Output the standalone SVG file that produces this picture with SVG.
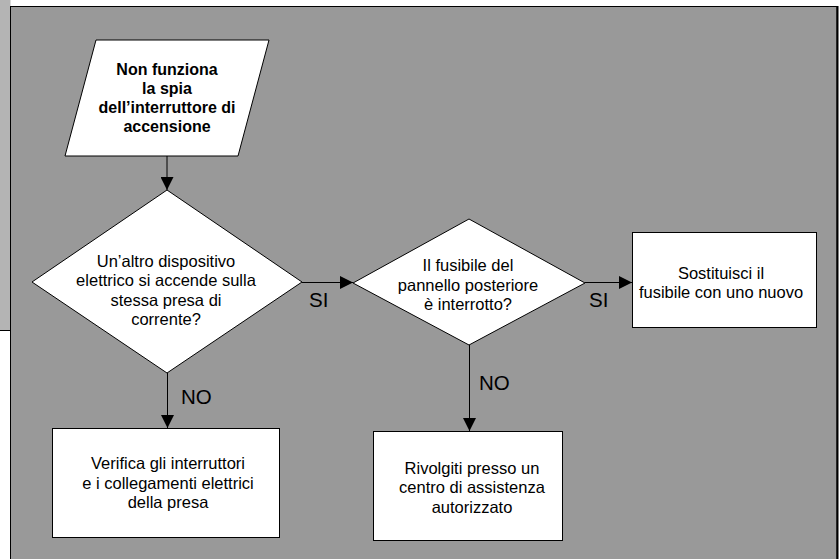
<svg xmlns="http://www.w3.org/2000/svg" width="839" height="559" viewBox="0 0 839 559">
<style>
.shape{fill:#ffffff;stroke:#000000;stroke-width:1}
.t{font-family:"Liberation Sans",Arial,sans-serif;font-size:16.5px;fill:#000000;text-anchor:middle}
.tb{font-family:"Liberation Sans",Arial,sans-serif;font-size:16px;font-weight:bold;fill:#000000;text-anchor:middle}
.lbl{font-family:"Liberation Sans",Arial,sans-serif;font-size:20.5px;fill:#000000}
.conn{stroke:#000000;stroke-width:1;fill:none}
</style>
<defs>
<marker id="arr" markerWidth="13" markerHeight="13" refX="13" refY="6.5" orient="auto" markerUnits="userSpaceOnUse">
<path d="M0,0 L13,6.5 L0,13 Z" fill="#000000"/>
</marker>
</defs>
<rect x="0" y="0" width="839" height="559" fill="#ffffff"/>
<rect x="0" y="0" width="10.5" height="330" fill="#b4b4b4"/>
<line x1="0" y1="330.5" x2="10.5" y2="330.5" stroke="#000" stroke-width="1"/>
<rect x="10.5" y="6.5" width="826.5" height="560" fill="#999999" stroke="#000000" stroke-width="1"/>
<line x1="837.5" y1="6" x2="837.5" y2="559" stroke="#000" stroke-width="2"/>

<g id="connectors">
<line class="conn" x1="167" y1="156" x2="167" y2="190" marker-end="url(#arr)"/>
<line class="conn" x1="302" y1="282.5" x2="353" y2="282.5" marker-end="url(#arr)"/>
<line class="conn" x1="585" y1="282.5" x2="632" y2="282.5" marker-end="url(#arr)"/>
<line class="conn" x1="167.5" y1="373" x2="167.5" y2="428" marker-end="url(#arr)"/>
<line class="conn" x1="469.5" y1="345" x2="469.5" y2="431" marker-end="url(#arr)"/>
<text class="lbl" x="309" y="307">SI</text>
<text class="lbl" x="589" y="307">SI</text>
<text class="lbl" x="181" y="404">NO</text>
<text class="lbl" x="479" y="390">NO</text>
</g>

<g id="start">
<polygon class="shape" points="96,40 269,40 238,156 65,156"/>
<text class="tb" x="167" y="75">Non funziona</text>
<text class="tb" x="167" y="94">la spia</text>
<text class="tb" x="167" y="113">dell’interruttore di</text>
<text class="tb" x="167" y="132">accensione</text>
</g>

<g id="decision1">
<polygon class="shape" points="167,190 302,282 167,373 32,282"/>
<text class="t" x="166" y="267">Un’altro dispositivo</text>
<text class="t" x="166" y="286">elettrico si accende sulla</text>
<text class="t" x="166" y="305.5">stessa presa di</text>
<text class="t" x="166" y="324.5">corrente?</text>
</g>

<g id="decision2">
<polygon class="shape" points="469,219 585,283 469,345 353,283"/>
<text class="t" x="468" y="271">Il fusibile del</text>
<text class="t" x="468" y="290.5">pannello posteriore</text>
<text class="t" x="468" y="310">è interrotto?</text>
</g>

<g id="replace">
<rect class="shape" x="632.5" y="232.5" width="184" height="95"/>
<text class="t" x="721" y="278.5">Sostituisci il</text>
<text class="t" x="721" y="298">fusibile con uno nuovo</text>
</g>

<g id="check">
<rect class="shape" x="52.5" y="428.5" width="227" height="109"/>
<text class="t" x="168" y="469">Verifica gli interruttori</text>
<text class="t" x="168" y="488.5">e i collegamenti elettrici</text>
<text class="t" x="168" y="508">della presa</text>
</g>

<g id="service">
<rect class="shape" x="373.5" y="431.5" width="189" height="109"/>
<text class="t" x="472" y="474">Rivolgiti presso un</text>
<text class="t" x="472" y="493">centro di assistenza</text>
<text class="t" x="472" y="512.5">autorizzato</text>
</g>
</svg>
